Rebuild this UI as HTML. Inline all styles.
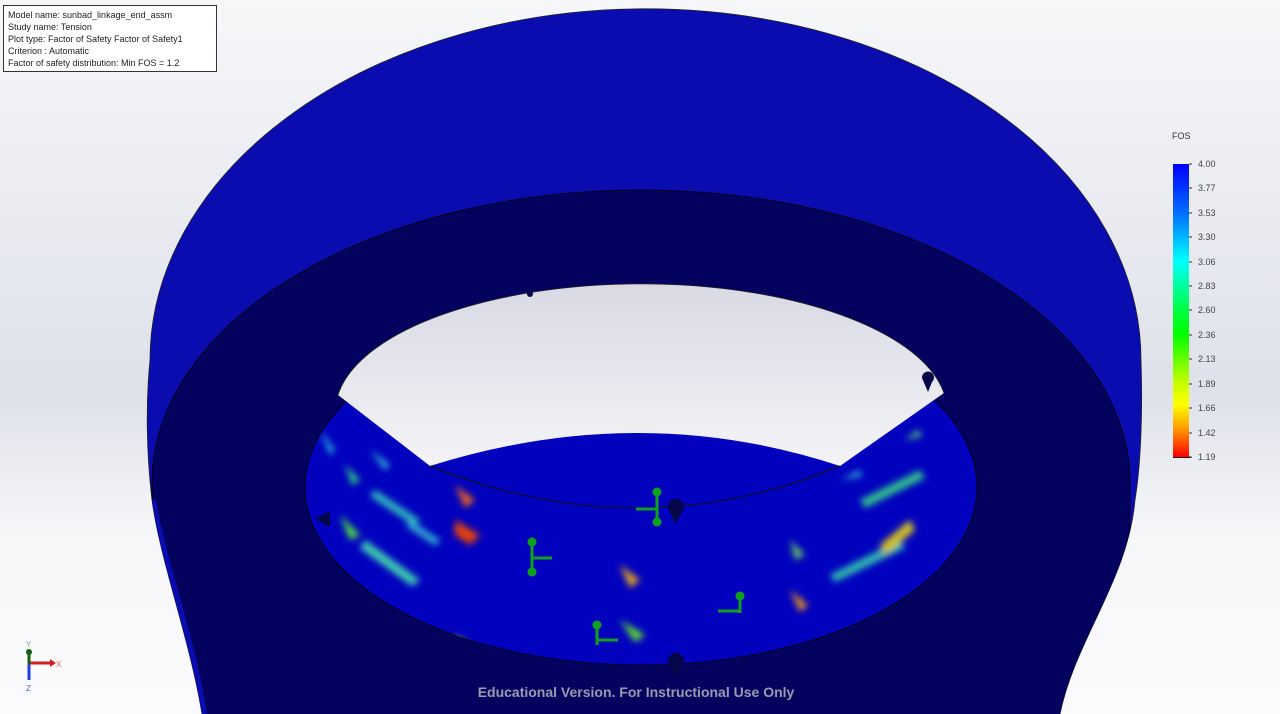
<!DOCTYPE html>
<html><head><meta charset="utf-8">
<style>
html,body{margin:0;padding:0;width:1280px;height:714px;overflow:hidden;background:#eceef3;}
svg{display:block;font-family:"Liberation Sans",sans-serif;}
</style></head>
<body>
<svg width="1280" height="714" viewBox="0 0 1280 714">
<defs>
<linearGradient id="bg" x1="0" y1="0" x2="0" y2="1">
<stop offset="0" stop-color="#f6f7f9"/><stop offset="0.55" stop-color="#dfe1ea"/><stop offset="0.75" stop-color="#f6f7f9"/><stop offset="1" stop-color="#fbfbfc"/>
</linearGradient>
<linearGradient id="hole" x1="0" y1="0" x2="0" y2="1">
<stop offset="0" stop-color="#d8d9e4"/><stop offset="1" stop-color="#f4f4f7"/>
</linearGradient>
<linearGradient id="cbar" x1="0" y1="0" x2="0" y2="1">
<stop offset="0" stop-color="#0000ff"/><stop offset="0.17" stop-color="#0070ff"/><stop offset="0.33" stop-color="#00ffff"/><stop offset="0.5" stop-color="#00ff40"/><stop offset="0.58" stop-color="#00ff00"/><stop offset="0.75" stop-color="#c8ff00"/><stop offset="0.82" stop-color="#ffff00"/><stop offset="0.9" stop-color="#ffa000"/><stop offset="1" stop-color="#ff0000"/>
</linearGradient>
<clipPath id="bodyclip"><path d="M 150 360 A 491 348 0 0 1 1141 360 C 1143 420 1140 470 1135 500 C 1128 580 1075 640 1060 714 L 202 714 C 190 640 160 560 152 500 C 146 450 146 400 150 360 Z"/></clipPath>
<clipPath id="brightclip"><ellipse cx="641" cy="487" rx="336" ry="178"/></clipPath>
<filter id="blur" x="-50%" y="-50%" width="200%" height="200%"><feGaussianBlur stdDeviation="3.5"/></filter>
</defs>
<rect width="1280" height="714" fill="url(#bg)"/>
<path d="M 150 360 A 491 348 0 0 1 1141 360 C 1143 420 1140 470 1135 500 C 1128 580 1075 640 1060 714 L 202 714 C 190 640 160 560 152 500 C 146 450 146 400 150 360 Z" fill="#0a0cb0" stroke="#222" stroke-width="0.8"/>
<g clip-path="url(#bodyclip)">
<path d="M 152 483 A 489 293 0 0 1 1130 483 L 1130 720 L 152 720 Z" fill="#03035f" stroke="#000" stroke-width="0.8"/>
<path d="M 202 714 C 190 640 160 560 152 500 L 156 500 C 166 560 196 640 207 714 Z" fill="#0a0cb0"/>
</g>
<ellipse cx="641" cy="487" rx="336" ry="178" fill="#0202be" stroke="#000" stroke-width="0.8"/>
<g clip-path="url(#brightclip)" filter="url(#blur)">
<path d="M320 430 L335 450 L330 455 Z" fill="#20b0e0"/>
<path d="M345 465 L360 480 L352 485 Z" fill="#30d080"/>
<path d="M370 450 L390 465 L385 470 Z" fill="#30c0d0"/>
<path d="M340 515 L360 535 L350 540 Z" fill="#50e040"/>
<path d="M365 540 L420 580 L412 586 L360 548 Z" fill="#40d0b0"/>
<path d="M375 490 L420 520 L415 526 L370 496 Z" fill="#30c0c0"/>
<path d="M410 520 L440 540 L436 546 L406 526 Z" fill="#30b0d0"/>
<path d="M455 485 L475 500 L465 508 Z" fill="#e06020"/>
<path d="M455 520 L480 535 L470 545 L455 535 Z" fill="#e04010"/>
<path d="M620 565 L640 580 L630 588 Z" fill="#e0a020"/>
<path d="M620 620 L645 635 L635 642 Z" fill="#60e030"/>
<path d="M455 635 L475 650 L470 662 L455 650 Z" fill="#c0d020"/>
<path d="M790 540 L805 555 L795 560 Z" fill="#60c060"/>
<path d="M790 590 L808 605 L800 612 Z" fill="#e09020"/>
<path d="M830 575 L900 540 L905 548 L835 582 Z" fill="#30c0b0"/>
<path d="M880 545 L910 520 L915 530 L885 555 Z" fill="#d0c020"/>
<path d="M860 500 L920 470 L925 478 L865 508 Z" fill="#30c090"/>
<path d="M905 440 L918 430 L922 436 Z" fill="#50d070"/>
<path d="M840 480 L860 470 L862 476 Z" fill="#30b0d0"/>
</g>
<path d="M 338 395 A 306 128 0 0 1 944 393 L 840 466 Q 640 400 430 466 Z" fill="url(#hole)"/>
<path d="M 338 395 A 306 128 0 0 1 944 393" fill="none" stroke="#222" stroke-width="0.8"/>
<path d="M 430 466 Q 640 550 840 466" fill="none" stroke="#111" stroke-width="1"/>
<g fill="#06064a">
<path d="M668 508 a8 8 0 1 1 14 4 L675 524 Z"/>
<path d="M668 662 a8 8 0 1 1 14 4 L675 678 Z"/>
<path d="M315 519 L330 511 L330 527 Z"/>
<path d="M922 378 a6 6 0 1 1 10 4 L928 392 Z"/>
<circle cx="530" cy="294" r="3"/>
</g>
<g stroke="#10a020" stroke-width="3" fill="#10a020">
<line x1="657" y1="490" x2="657" y2="525"/><line x1="636" y1="509" x2="657" y2="509"/><circle cx="657" cy="492" r="3"/><circle cx="657" cy="522" r="3"/>
<line x1="532" y1="540" x2="532" y2="575"/><line x1="532" y1="558" x2="552" y2="558"/><circle cx="532" cy="542" r="3"/><circle cx="532" cy="572" r="3"/>
<line x1="597" y1="622" x2="597" y2="645"/><line x1="597" y1="640" x2="618" y2="640"/><circle cx="597" cy="625" r="3"/>
<line x1="740" y1="593" x2="740" y2="613"/><line x1="718" y1="611" x2="740" y2="611"/><circle cx="740" cy="596" r="3"/>
</g>
<text x="636" y="697" text-anchor="middle" font-size="14" fill="#9a9bb0" font-weight="bold">Educational Version. For Instructional Use Only</text>
<g>
<rect x="3.5" y="5.5" width="213" height="66" fill="#ffffff" stroke="#333" stroke-width="1"/>
<g font-size="9" fill="#222">
<text x="8" y="18">Model name: sunbad_linkage_end_assm</text>
<text x="8" y="30">Study name: Tension</text>
<text x="8" y="42">Plot type: Factor of Safety Factor of Safety1</text>
<text x="8" y="54">Criterion : Automatic</text>
<text x="8" y="66">Factor of safety distribution: Min FOS = 1.2</text>
</g>
</g>
<g id="legend">
<text x="1172" y="139" font-size="9" fill="#333">FOS</text>
<rect x="1173" y="164" width="16" height="293" fill="url(#cbar)"/>
<line x1="1173" y1="457.5" x2="1191" y2="457.5" stroke="#111"/>
</g>
<g>
<line x1="29" y1="650" x2="29" y2="680" stroke="#2040e0" stroke-width="3"/>
<line x1="29" y1="663" x2="52" y2="663" stroke="#d02020" stroke-width="3"/>
<path d="M50 659 L56 663 L50 667 Z" fill="#d02020"/>
<circle cx="29" cy="652" r="3" fill="#106010"/>
<line x1="29" y1="652" x2="29" y2="664" stroke="#106010" stroke-width="3"/>
<text x="56" y="667" font-size="8" fill="#f06060">X</text>
<text x="26" y="647" font-size="8" fill="#80a080">Y</text>
<text x="26" y="691" font-size="8" fill="#4060f0">Z</text>
</g>
</svg>
<script>
const tickLabels = ["4.00","3.77","3.53","3.30","3.06","2.83","2.60","2.36","2.13","1.89","1.66","1.42","1.19"];
const tickValues = [4.00,3.77,3.53,3.30,3.06,2.83,2.60,2.36,2.13,1.89,1.66,1.42,1.19];
const vmax = 4.00, vmin = 1.19;
function yScale(v){ return 164 + (vmax - v) / (vmax - vmin) * 293; }
const g = document.getElementById('legend');
const NS = 'http://www.w3.org/2000/svg';
tickValues.forEach((v,i)=>{
  const y = yScale(v);
  const tk = document.createElementNS(NS,'line');
  tk.setAttribute('x1',1189); tk.setAttribute('x2',1192);
  tk.setAttribute('y1',y); tk.setAttribute('y2',y);
  tk.setAttribute('stroke','#333');
  
  
  g.appendChild(tk);
  const t = document.createElementNS(NS,'text');
  t.setAttribute('x',1198); t.setAttribute('y',y+3);
  t.setAttribute('font-size','9'); t.setAttribute('fill','#444');
  t.textContent = tickLabels[i];
  
  
  g.appendChild(t);
});
</script>
</body></html>
